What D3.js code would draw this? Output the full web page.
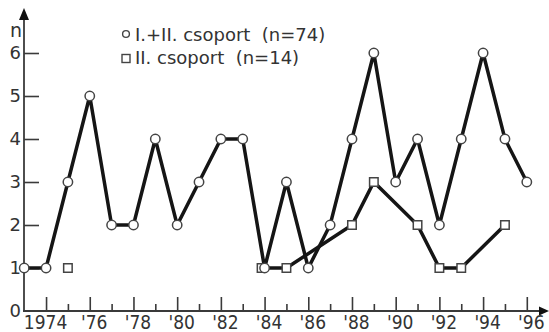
<!DOCTYPE html>
<html>
<head>
<meta charset="utf-8">
<script src="https://cdn.jsdelivr.net/npm/d3@7/dist/d3.min.js"></script>
<style>
  html, body { margin: 0; padding: 0; background: #fff; }
  svg { display: block; }
</style>
</head>
<body>
<svg id="chart" width="549" height="332"></svg>
<script>
// Yearly case counts, 1973–1996
const years = [1973, 1974, 1975, 1976, 1977, 1978, 1979, 1980, 1981, 1982, 1983, 1984,
               1985, 1986, 1987, 1988, 1989, 1990, 1991, 1992, 1993, 1994, 1995, 1996];
const totalCounts = [1, 1, 3, 5, 2, 2, 4, 2, 3, 4, 4, 1, 3, 1, 2, 4, 6, 3, 4, 2, 4, 6, 4, 3];

// Group II: only years with cases; the 1975 case is shown on its own
const groupIIYears = [1975, 1984, 1985, 1988, 1989, 1991, 1992, 1993, 1995];
const groupIICounts = [1, 1, 1, 2, 3, 2, 1, 1, 2];
const groupIILinkedFrom = 1984;

const yTickValues = [0, 1, 2, 3, 4, 5, 6];
const xMajorYears = [1974, 1976, 1978, 1980, 1982, 1984, 1986, 1988, 1990, 1992, 1994, 1996];
const xMajorLabels = ["1974", "'76", "'78", "'80", "'82", "'84", "'86", "'88", "'90", "'92", "'94", "'96"];
const xMinorYears = [1975, 1977, 1979, 1981, 1983, 1985, 1987, 1989, 1991, 1993, 1995];
const legendLabels = ["I.+II. csoport  (n=74)", "II. csoport  (n=14)"];
const yAxisTitle = "n";

const ink = "#151515";
const axisInk = "#3a3a3a";
const textInk = "#333";

const svg = d3.select("#chart");

const originX = 24, originY = 311;
const x = d3.scaleLinear().domain([1973, 1996]).range([originX + 0.2, 526.8]);
const y = d3.scaleLinear().domain([0, 6]).range([originY, 53]);

// Axis lines with arrowheads
svg.append("line")
  .attr("x1", originX).attr("y1", originY + 1)
  .attr("x2", originX).attr("y2", 20)
  .attr("stroke", axisInk).attr("stroke-width", 1.8);
svg.append("path")
  .attr("d", `M${originX - 5},${20} L${originX},${8} L${originX + 5},${20} Z`)
  .attr("fill", "#111");
svg.append("line")
  .attr("x1", originX - 1).attr("y1", originY)
  .attr("x2", 541).attr("y2", originY)
  .attr("stroke", axisInk).attr("stroke-width", 1.8);
svg.append("path")
  .attr("d", `M${539},${originY - 4.5} L${549},${originY} L${539},${originY + 4.5} Z`)
  .attr("fill", "#111");

// X axis: major ticks with labels, minor ticks between them
const xMajor = svg.append("g")
  .attr("transform", `translate(0,${originY})`)
  .call(d3.axisBottom(x)
    .tickValues(xMajorYears)
    .tickSizeInner(-14)
    .tickSizeOuter(0)
    .tickPadding(4)
    .tickFormat((d, i) => xMajorLabels[i]));
xMajor.select(".domain").remove();
xMajor.selectAll(".tick line").attr("stroke", axisInk).attr("stroke-width", 1.6);
xMajor.selectAll(".tick text")
  .attr("fill", textInk)
  .attr("font-family", "'Liberation Sans Narrow', 'DejaVu Sans Condensed', sans-serif")
  .attr("font-size", 19)
  .attr("dx", (d, i) => xMajorLabels[i].startsWith("'") ? 4 : -1);

const xMinor = svg.append("g")
  .attr("transform", `translate(0,${originY})`)
  .call(d3.axisBottom(x)
    .tickValues(xMinorYears)
    .tickSizeInner(-7)
    .tickSizeOuter(0)
    .tickFormat(""));
xMinor.select(".domain").remove();
xMinor.selectAll(".tick line").attr("stroke", axisInk).attr("stroke-width", 1.6);

// Y axis: ticks point into the plot, labels to the left
const yAxis = svg.append("g")
  .attr("transform", `translate(${originX},0)`)
  .call(d3.axisLeft(y)
    .tickValues(yTickValues)
    .tickSizeInner(-15)
    .tickSizeOuter(0)
    .tickPadding(3)
    .tickFormat(d3.format("d")));
yAxis.select(".domain").remove();
yAxis.selectAll(".tick line").attr("stroke", axisInk).attr("stroke-width", 1.6);
yAxis.selectAll(".tick").filter(d => d === 0).select("line").remove();
yAxis.selectAll(".tick text")
  .attr("fill", textInk)
  .attr("font-family", "'DejaVu Sans', sans-serif")
  .attr("font-size", 18);

svg.append("text")
  .attr("x", 16).attr("y", 37)
  .attr("text-anchor", "middle")
  .attr("fill", textInk)
  .attr("font-family", "'DejaVu Sans', sans-serif")
  .attr("font-size", 19)
  .text(yAxisTitle);

// Series data
const totalPoints = years.map((yr, i) => ({ year: yr, value: totalCounts[i] }));
const groupIIPoints = groupIIYears.map((yr, i) => ({ year: yr, value: groupIICounts[i] }));
const groupIILinked = groupIIPoints.filter(d => d.year >= groupIILinkedFrom);

const line = d3.line().x(d => x(d.year)).y(d => y(d.value));

svg.append("path")
  .datum(groupIILinked)
  .attr("d", line)
  .attr("fill", "none")
  .attr("stroke", ink)
  .attr("stroke-width", 3.5);

svg.append("path")
  .datum(totalPoints)
  .attr("d", line)
  .attr("fill", "none")
  .attr("stroke", ink)
  .attr("stroke-width", 3.5);

const sq = 8.5;
svg.append("g").selectAll("rect")
  .data(groupIIPoints)
  .join("rect")
  .attr("x", d => x(d.year) - sq / 2 - (d.year === 1984 ? 3 : 0))
  .attr("y", d => y(d.value) - sq / 2)
  .attr("width", sq).attr("height", sq)
  .attr("fill", "#fff")
  .attr("stroke", "#444")
  .attr("stroke-width", 1.5);

svg.append("g").selectAll("circle")
  .data(totalPoints)
  .join("circle")
  .attr("cx", d => x(d.year))
  .attr("cy", d => y(d.value))
  .attr("r", 4.7)
  .attr("fill", "#fff")
  .attr("stroke", "#444")
  .attr("stroke-width", 1.5);

// Legend
const legend = svg.append("g");
legend.append("circle")
  .attr("cx", 126).attr("cy", 34).attr("r", 3.4)
  .attr("fill", "#fff").attr("stroke", "#444").attr("stroke-width", 1.4);
legend.append("rect")
  .attr("x", 122).attr("y", 54.5).attr("width", 8).attr("height", 8)
  .attr("fill", "#fff").attr("stroke", "#444").attr("stroke-width", 1.4);
legend.selectAll("text")
  .data(legendLabels)
  .join("text")
  .attr("x", 135)
  .attr("y", (d, i) => 41 + i * 23)
  .attr("fill", textInk)
  .attr("font-family", "'DejaVu Sans', sans-serif")
  .attr("font-size", 18)
  .attr("xml:space", "preserve")
  .style("white-space", "pre")
  .text(d => d);
</script>
</body>
</html>
